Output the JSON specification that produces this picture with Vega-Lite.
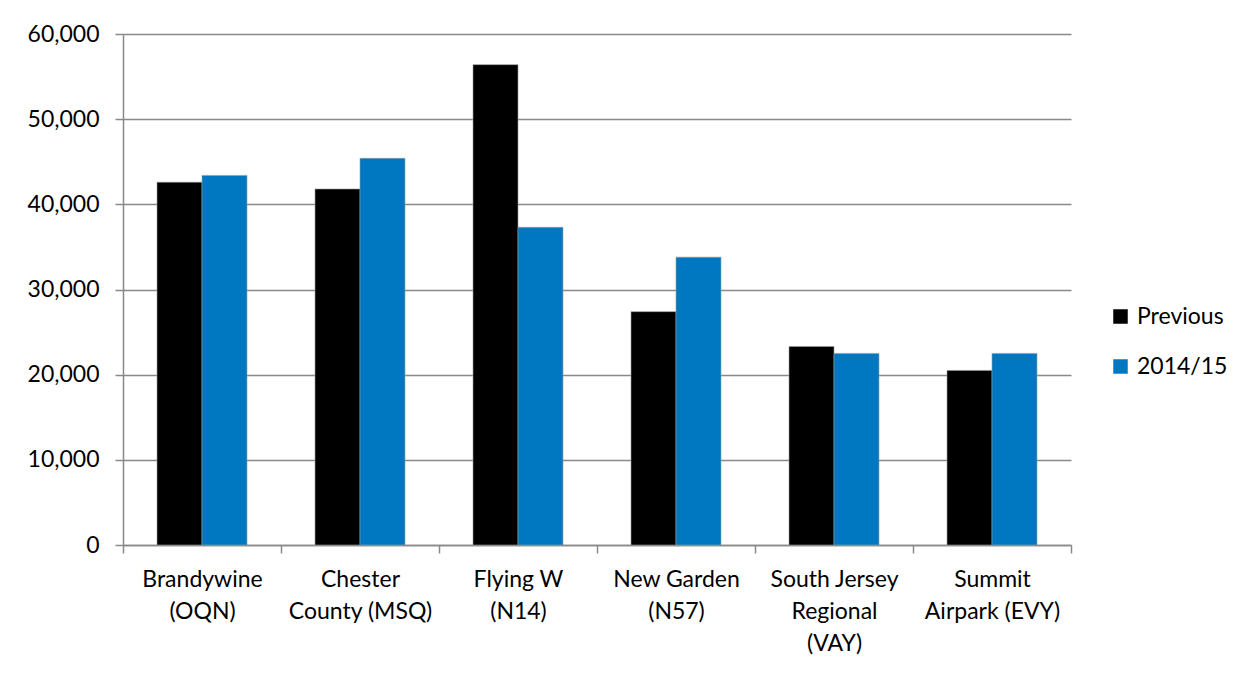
{
  "$schema": "https://vega.github.io/schema/vega-lite/v6.json",
  "autosize": "none",
  "width": 948,
  "height": 511,
  "padding": {"left": 123, "top": 34, "right": 181, "bottom": 128},
  "background": "white",
  "data": {
    "values": [
      {"airport": "Brandywine (OQN)", "period": "Previous", "ops": 42600},
      {"airport": "Brandywine (OQN)", "period": "2014/15", "ops": 43400},
      {"airport": "Chester County (MSQ)", "period": "Previous", "ops": 41800},
      {"airport": "Chester County (MSQ)", "period": "2014/15", "ops": 45400},
      {"airport": "Flying W (N14)", "period": "Previous", "ops": 56400},
      {"airport": "Flying W (N14)", "period": "2014/15", "ops": 37300},
      {"airport": "New Garden (N57)", "period": "Previous", "ops": 27400},
      {"airport": "New Garden (N57)", "period": "2014/15", "ops": 33800},
      {"airport": "South Jersey Regional (VAY)", "period": "Previous", "ops": 23300},
      {"airport": "South Jersey Regional (VAY)", "period": "2014/15", "ops": 22500},
      {"airport": "Summit Airpark (EVY)", "period": "Previous", "ops": 20500},
      {"airport": "Summit Airpark (EVY)", "period": "2014/15", "ops": 22500}
    ]
  },
  "mark": {"type": "bar", "stroke": "#9a9a9a", "strokeWidth": 0.6},
  "encoding": {
    "x": {
      "field": "airport",
      "type": "nominal",
      "sort": null,
      "title": null,
      "scale": {"paddingInner": 0, "paddingOuter": 0},
      "axis": {
        "labelAngle": 0,
        "tickBand": "extent",
        "domainColor": "#898989",
        "domainWidth": 1.5,
        "tickColor": "#898989",
        "tickWidth": 1.5,
        "tickSize": 8,
        "labelFont": "Lato",
        "labelFontSize": 23,
        "labelColor": "#000000",
        "labelPadding": 15,
        "labelLineHeight": 32,
        "labelBaseline": "top",
        "labelLimit": 0,
        "labelExpr": "{'Brandywine (OQN)': ['Brandywine', '(OQN)'], 'Chester County (MSQ)': ['Chester', 'County (MSQ)'], 'Flying W (N14)': ['Flying W', '(N14)'], 'New Garden (N57)': ['New Garden', '(N57)'], 'South Jersey Regional (VAY)': ['South Jersey', 'Regional', '(VAY)'], 'Summit Airpark (EVY)': ['Summit', 'Airpark (EVY)']}[datum.label]"
      }
    },
    "xOffset": {
      "field": "period",
      "type": "nominal",
      "sort": ["Previous", "2014/15"],
      "scale": {"paddingInner": 0, "paddingOuter": 0.756}
    },
    "y": {
      "field": "ops",
      "type": "quantitative",
      "title": null,
      "scale": {"domain": [0, 60000], "nice": false},
      "axis": {
        "values": [0, 10000, 20000, 30000, 40000, 50000, 60000],
        "format": ",d",
        "grid": true,
        "gridColor": "#898989",
        "gridWidth": 1.5,
        "domainColor": "#898989",
        "domainWidth": 1.5,
        "tickColor": "#898989",
        "tickWidth": 1.5,
        "tickSize": 8,
        "labelFont": "Lato",
        "labelFontSize": 23,
        "labelColor": "#000000",
        "labelPadding": 16
      }
    },
    "color": {
      "field": "period",
      "type": "nominal",
      "sort": ["Previous", "2014/15"],
      "scale": {"domain": ["Previous", "2014/15"], "range": ["#000000", "#0078c1"]},
      "legend": {
        "title": null,
        "orient": "none",
        "legendX": 986,
        "legendY": 271,
        "symbolType": "square",
        "symbolSize": 210,
        "symbolStrokeWidth": 0,
        "labelFont": "Lato",
        "labelFontSize": 23,
        "labelColor": "#000000",
        "labelOffset": 5,
        "rowPadding": 26
      }
    }
  },
  "config": {"view": {"stroke": null}}
}
